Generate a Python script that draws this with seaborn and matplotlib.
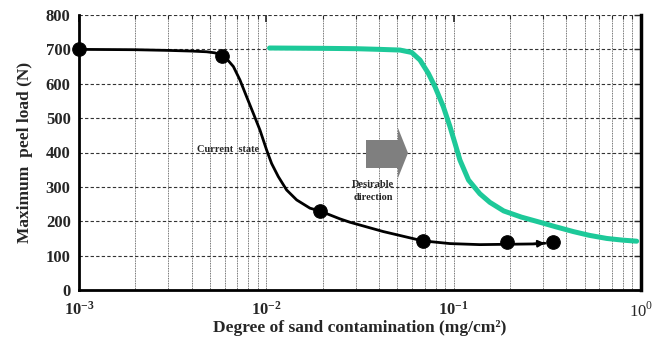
import matplotlib
matplotlib.use("Agg")
import matplotlib.pyplot as plt
import seaborn as sns
import numpy as np
from matplotlib.patches import Polygon
from matplotlib.ticker import LogLocator, FixedLocator

# ---- data ----
current_x = [1.0e-3, 2.0e-3, 3.0e-3, 4.0e-3, 4.8e-3, 5.3e-3, 5.78e-3, 6.2e-3, 6.67e-3,
             7.23e-3, 7.85e-3, 8.52e-3, 9.25e-3, 1.004e-2, 1.067e-2, 1.158e-2,
             1.283e-2, 1.452e-2, 1.71e-2, 1.93e-2, 2.47e-2, 2.80e-2, 4.21e-2,
             6.83e-2, 9.56e-2, 0.138, 0.193, 0.266, 0.307]
current_y = [700, 699, 697, 695, 693, 690, 683, 670, 650,
             611, 562, 514, 465, 407, 368, 330,
             291, 262, 238, 230, 207, 197, 170,
             143, 135, 132, 133, 134, 136]
marker_x = [1e-3, 5.78e-3, 1.93e-2, 6.83e-2, 0.193, 0.340]
marker_y = [700, 681, 230, 143, 139, 139]
desired_x = [0.0104, 0.02, 0.03, 0.0404, 0.0517, 0.0597, 0.0661, 0.0733, 0.0794,
             0.0881, 0.0956, 0.1016, 0.108, 0.120, 0.138, 0.156, 0.185, 0.23,
             0.289, 0.35, 0.435, 0.53, 0.656, 0.80, 0.948]
desired_y = [704, 703, 702, 700, 698, 691, 669, 630, 592,
             533, 475, 427, 378, 320, 280, 255, 230, 212,
             197, 184, 170, 159, 150, 145, 142]
yticks = [0, 100, 200, 300, 400, 500, 600, 700, 800]
xticks = [1e-3, 1e-2, 1e-1, 1e0]
xticklabels = [r"$\mathbf{10^{-3}}$", r"$\mathbf{10^{-2}}$", r"$\mathbf{10^{-1}}$", r"$10^{0}$"]

sns.set_style("white")
plt.rcParams["font.family"] = ["Liberation Serif", "DejaVu Serif"]
plt.rcParams["mathtext.fontset"] = "custom"
plt.rcParams["mathtext.rm"] = "Liberation Serif"
plt.rcParams["mathtext.bf"] = "Liberation Serif:bold"

fig = plt.figure(figsize=(6.57, 3.47), dpi=100)
ax = fig.add_axes([79/657, 1-290/347, 562/657, 275/347])

ax.set_xscale("log")
ax.set_xlim(1e-3, 1e0)
ax.set_ylim(0, 800)

# grid
ax.set_yticks(yticks)
ax.xaxis.set_major_locator(FixedLocator(xticks))
ax.xaxis.set_minor_locator(LogLocator(base=10, subs=np.arange(2, 10)))
ax.grid(True, axis="y", which="major", color="#333333", linestyle=(0, (3, 2)), linewidth=0.8)
ax.grid(True, axis="x", which="both", color="#444444", linestyle=(0, (1, 1)), linewidth=0.6)

green = "#1DC999"
sns.lineplot(x=desired_x, y=desired_y, ax=ax, color=green, linewidth=3.6,
             sort=False, estimator=None, zorder=3)
sns.lineplot(x=current_x, y=current_y, ax=ax, color="black", linewidth=2.0,
             sort=False, estimator=None, zorder=4)
sns.scatterplot(x=marker_x, y=marker_y, ax=ax, color="black", s=95,
                edgecolor="black", zorder=5, clip_on=False)
# small arrow head at the end of the current curve
ax.annotate("", xy=(current_x[-1], current_y[-1]), xytext=(current_x[-2], current_y[-2]),
            arrowprops=dict(arrowstyle="-|>", color="black", lw=1.5, mutation_scale=10,
                            shrinkA=0, shrinkB=0), zorder=5)

# spines
for s in ["left", "bottom"]:
    ax.spines[s].set_linewidth(2.0)
    ax.spines[s].set_color("black")
ax.spines["right"].set_linewidth(2.5)
ax.spines["right"].set_color("black")
ax.spines["top"].set_visible(False)

ax.set_xticklabels(xticklabels)
ax.tick_params(axis="x", which="major", direction="in", length=5, width=1.2,
               labelsize=12, pad=8, top=True)
ax.tick_params(axis="x", which="minor", direction="in", length=3, width=0.8, top=True)
ax.tick_params(axis="y", which="major", direction="in", length=5, width=1.0,
               labelsize=12, pad=6, right=True)
for lab in ax.get_yticklabels():
    lab.set_fontweight("bold")

ax.set_xlabel("Degree of sand contamination (mg/cm²)", fontsize=12.5, fontweight="bold", labelpad=0)
ax.set_ylabel("Maximum  peel load (N)", fontsize=12.5, fontweight="bold", labelpad=9)

# annotations
ax.text(6.27e-3, 410, "Current  state", fontsize=7.5, fontweight="bold", ha="center", va="center")
ax.text(3.73e-2, 288, "Desirable\ndirection", fontsize=7.5, fontweight="bold",
        ha="center", va="center", linespacing=1.7)

H = 347.0
W = 657.0
pts = [(366, 140), (398, 140), (398, 128), (408, 153), (398, 178), (398, 168), (366, 168)]
poly = Polygon([(px / W, 1 - py / H) for px, py in pts], closed=True,
               facecolor="#7f7f7f", edgecolor="none", transform=fig.transFigure, zorder=6)
fig.patches.append(poly)

fig.savefig("out.png", dpi=100)
